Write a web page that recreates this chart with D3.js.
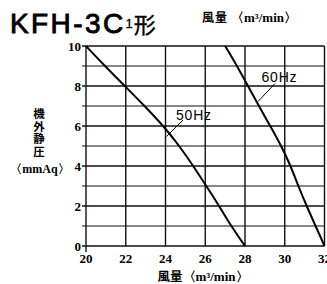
<!DOCTYPE html>
<html><head><meta charset="utf-8">
<script src="https://cdn.jsdelivr.net/npm/d3@7"></script>
<style>
html,body{margin:0;padding:0;background:#fff;}
svg{display:block;}
</style></head>
<body>
<svg id="c" width="327" height="284"></svg>
<script>
const title = "KFH-3C";
const titleSub = "1";
const titleEnd = "形";
const xTicks = [20,22,24,26,28,30,32];
const yTicks = [0,2,4,6,8,10];
const yGrid = [0,1,2,3,4,5,6,7,8,9,10];
const pressure = [10,9,8,7,6,5,4,3,2,1,0];
const flow50 = [20,20.95,21.95,22.95,23.9,24.7,25.4,26.05,26.7,27.3,28];
const flow60 = [27.0,27.6,28.15,28.7,29.27,29.83,30.3,30.68,31.1,31.55,32];
const seriesNames = ["50Hz","60Hz"];
const yTitle = "機外静圧";
const yTitleUnit = "〈mmAq〉";
const xTitleA = "風量";
const xTitleB = "〈m³/min〉";

const svg = d3.select("#c");
const x = d3.scaleLinear().domain([20,32]).range([86,324.5]);
const y = d3.scaleLinear().domain([0,10]).range([246,46]);
const serif = "'Liberation Serif','DejaVu Serif',serif";
const cjk = "'Noto Sans CJK JP',sans-serif";
const sans = "'Liberation Sans',Arial,sans-serif";

// grid horizontal
svg.append("g").selectAll("line").data(yGrid).join("line")
  .attr("x1", x(20)-4).attr("x2", x(32))
  .attr("y1", d=>y(d)).attr("y2", d=>y(d))
  .attr("stroke", "#111").attr("stroke-width", d=>d%2===0?1.4:1.1);
// grid vertical
svg.append("g").selectAll("line").data(xTicks).join("line")
  .attr("x1", d=>x(d)).attr("x2", d=>x(d))
  .attr("y1", y(10)).attr("y2", d=>d===20?y(0)+6:y(0))
  .attr("stroke", "#111").attr("stroke-width", 1.4);

// y tick labels
svg.append("g").selectAll("text").data(yTicks).join("text")
  .attr("x", x(20)-5).attr("y", d=>y(d)+4.5)
  .attr("text-anchor","end").attr("font-family", serif).attr("font-weight","bold")
  .attr("font-size", 13).text(d=>d);
// x tick labels
svg.append("g").selectAll("text").data(xTicks).join("text")
  .attr("x", d=>x(d)).attr("y", 263)
  .attr("text-anchor","middle").attr("font-family", serif).attr("font-weight","bold")
  .attr("font-size", 13).text(d=>d);

// curves
const line = d3.line().x(d=>x(d[0])).y(d=>y(d[1])).curve(d3.curveBasis);
[flow50, flow60].forEach(f=>{
  svg.append("path").attr("d", line(f.map((v,i)=>[v,pressure[i]])))
    .attr("fill","none").attr("stroke","#000").attr("stroke-width",2);
});

// labels with leaders
svg.append("line").attr("x1",166.5).attr("y1",136.5).attr("x2",183).attr("y2",120)
  .attr("stroke","#000").attr("stroke-width",1);
svg.append("text").attr("x",176).attr("y",120).attr("font-family",sans)
  .attr("font-size",14).attr("letter-spacing",0.8).text(seriesNames[0]);
svg.append("line").attr("x1",258).attr("y1",101.5).attr("x2",275).attr("y2",83.5)
  .attr("stroke","#000").attr("stroke-width",1);
svg.append("text").attr("x",261.5).attr("y",81.7).attr("font-family",sans)
  .attr("font-size",14).attr("letter-spacing",0.8).text(seriesNames[1]);

// title
const t = svg.append("text").attr("x",10).attr("y",33).attr("font-family",sans)
  .attr("font-size",28).attr("stroke","#000").attr("stroke-width",0.9);
t.append("tspan").attr("letter-spacing",2.4).text(title);
t.append("tspan").attr("font-size",13).attr("dy",-5).attr("dx",0).attr("stroke-width",0.3).text(titleSub);
t.append("tspan").attr("font-family",cjk).attr("font-size",22).attr("dy",5).attr("dx",1).attr("stroke-width",0.4).text(titleEnd);

// top unit label
const tt = svg.append("text").attr("x",202).attr("y",22).attr("font-weight","bold").attr("font-size",12);
tt.append("tspan").attr("font-family",cjk).attr("letter-spacing",1).text(xTitleA);
tt.append("tspan").attr("font-family",serif).attr("dx",3).attr("font-size",13).text(xTitleB);

// x title
const xt = svg.append("text").attr("x",203).attr("y",281).attr("text-anchor","middle")
  .attr("font-weight","bold").attr("font-size",13);
xt.append("tspan").attr("font-family",cjk).attr("font-size",12.5).text(xTitleA);
xt.append("tspan").attr("font-family",serif).text(xTitleB);

// y title (vertical)
svg.append("text").attr("x",39).attr("y",108)
  .style("writing-mode","vertical-rl").attr("font-family",cjk).attr("font-weight","bold")
  .attr("font-size",11.5).attr("letter-spacing",1.1).text(yTitle);
svg.append("text").attr("x",40).attr("y",172.5).attr("text-anchor","middle")
  .attr("font-family",serif).attr("font-weight","bold").attr("font-size",12).text(yTitleUnit);
</script>
</body></html>
